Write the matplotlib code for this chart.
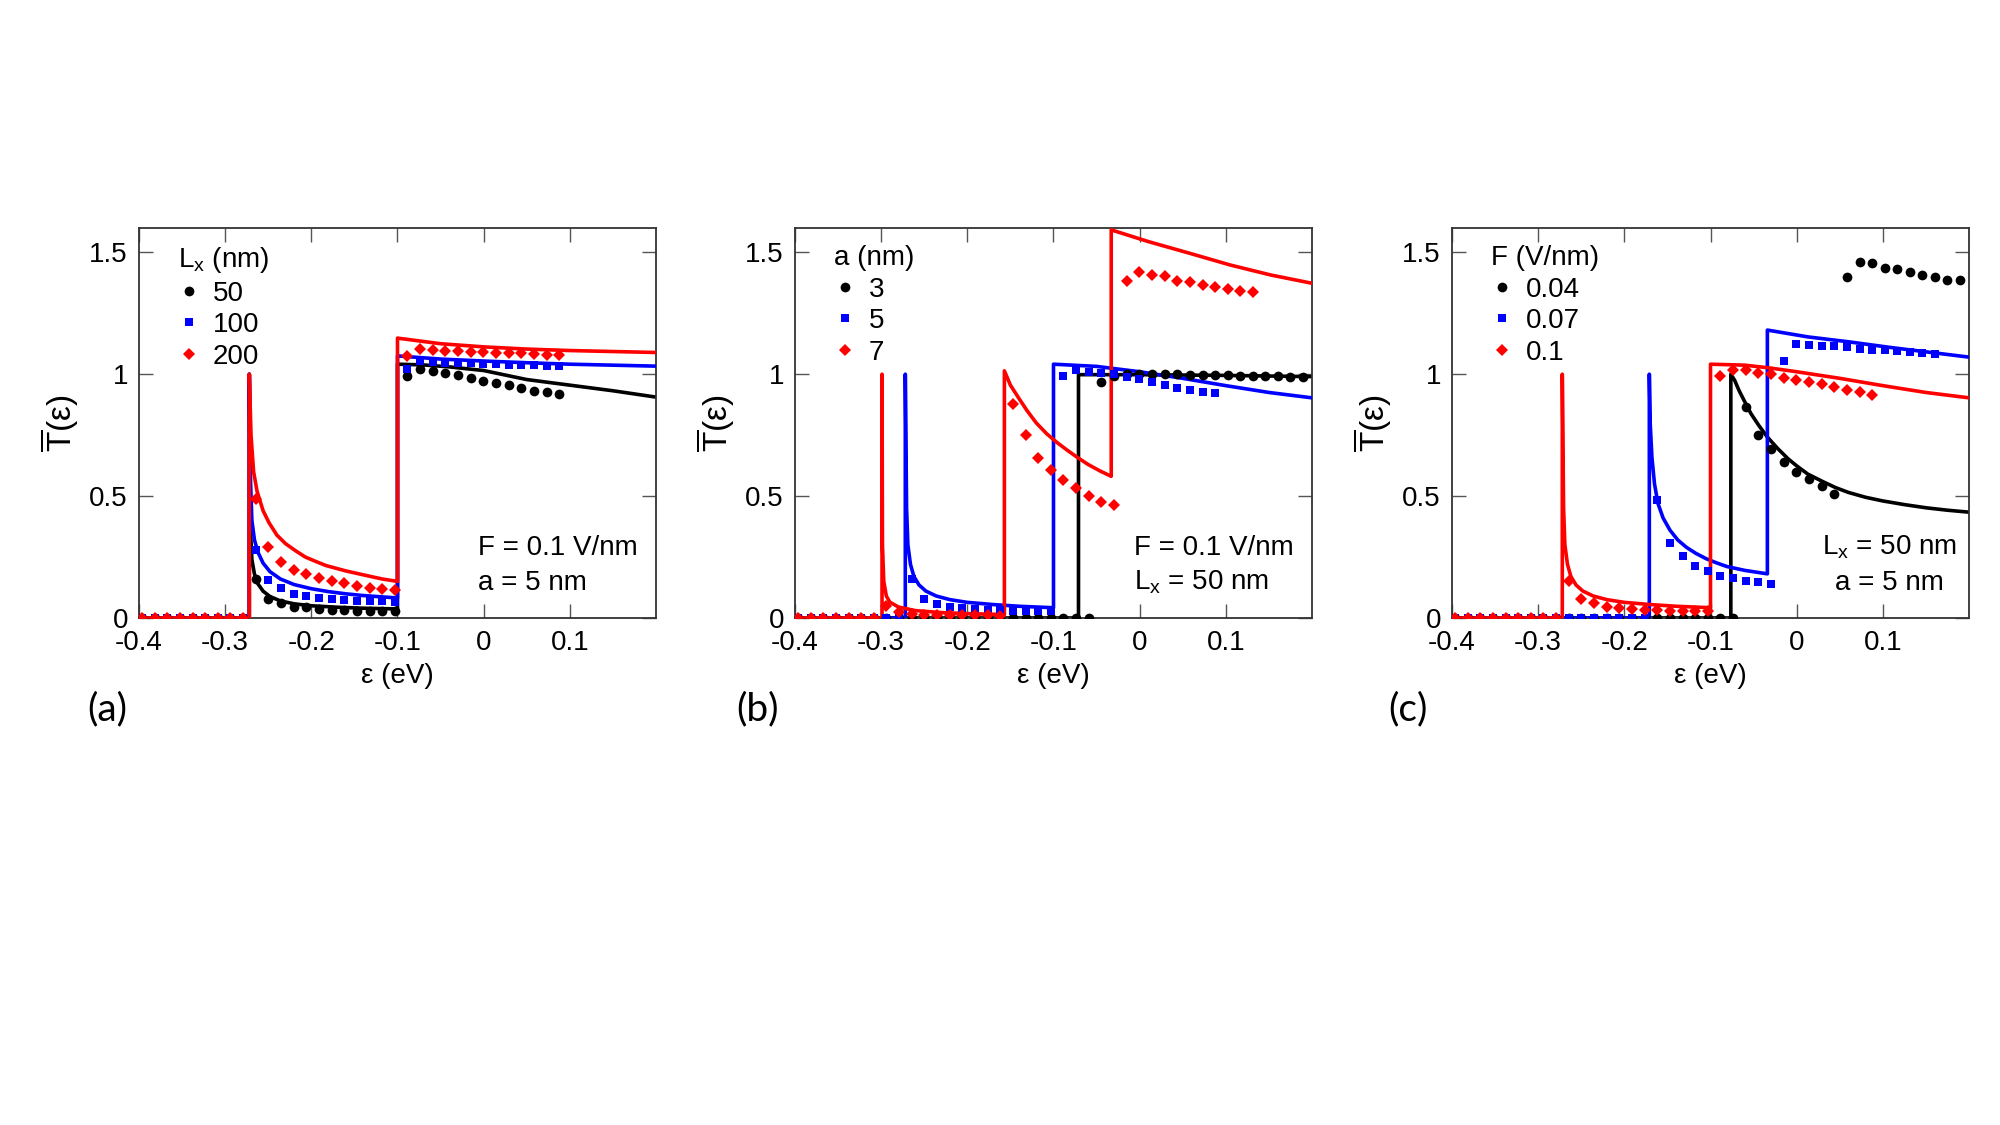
import numpy as np
import matplotlib
matplotlib.use('Agg')
import matplotlib.pyplot as plt

plt.rcParams['font.family'] = ['Liberation Sans', 'DejaVu Sans']
plt.rcParams['mathtext.fontset'] = 'custom'
plt.rcParams['mathtext.rm'] = 'Liberation Sans'
plt.rcParams['mathtext.it'] = 'Liberation Sans:italic'

##### energy grid of the numerical points (eV) #####
e_pts = [-0.396, -0.381, -0.367, -0.352, -0.337, -0.323, -0.308, -0.294, -0.279, -0.264,
         -0.250, -0.235, -0.220, -0.206, -0.191, -0.176, -0.162, -0.147, -0.132, -0.118,
         -0.103, -0.089, -0.074, -0.059, -0.045, -0.030, -0.015, -0.001, 0.014, 0.029,
         0.043, 0.058, 0.073, 0.087, 0.102, 0.117, 0.131, 0.146, 0.161, 0.175, 0.190]

##### panel (a): L_x = 50, 100, 200 nm #####
a_labels = ['50', '100', '200']
a_pts = [
    [0, 0, 0, 0, 0, 0, 0, 0, 0, 0.16, 0.078, 0.060, 0.047, 0.044, 0.037, 0.034, 0.033,
     0.030, 0.030, 0.029, 0.027, 0.993, 1.021, 1.014, 1.004, 0.996, 0.985, 0.973, 0.962,
     0.956, 0.944, 0.933, 0.925, 0.918],
    [0, 0, 0, 0, 0, 0, 0, 0, 0, 0.28, 0.156, 0.123, 0.099, 0.089, 0.082, 0.078, 0.074,
     0.071, 0.068, 0.068, 0.064, 1.023, 1.053, 1.051, 1.047, 1.044, 1.044, 1.041, 1.040,
     1.039, 1.037, 1.036, 1.034, 1.033],
    [0, 0, 0, 0, 0, 0, 0, 0, 0, 0.49, 0.29, 0.229, 0.197, 0.180, 0.164, 0.152, 0.143,
     0.131, 0.123, 0.120, 0.115, 1.075, 1.105, 1.099, 1.096, 1.095, 1.092, 1.089, 1.088,
     1.085, 1.085, 1.082, 1.080, 1.078],
]
a_line_x = [
    [-0.4, -0.272, -0.272, -0.2705, -0.269, -0.266, -0.262, -0.256, -0.248, -0.236, -0.22,
     -0.2, -0.17, -0.14, -0.1, -0.1, -0.07, -0.04, 0.0, 0.05, 0.1, 0.15, 0.2],
    [-0.4, -0.272, -0.272, -0.2705, -0.269, -0.266, -0.262, -0.256, -0.248, -0.236, -0.22,
     -0.2, -0.18, -0.16, -0.14, -0.12, -0.1, -0.1, -0.05, 0.0, 0.05, 0.1, 0.15, 0.2],
    [-0.4, -0.272, -0.272, -0.270, -0.267, -0.263, -0.256, -0.249, -0.240, -0.230, -0.218,
     -0.207, -0.195, -0.183, -0.16, -0.136, -0.118, -0.1, -0.1, -0.05, 0.0, 0.05, 0.1,
     0.15, 0.2],
]
a_line_y = [
    [0, 0, 1.0, 0.35, 0.24, 0.18, 0.14, 0.11, 0.088, 0.07, 0.058,
     0.05, 0.044, 0.04, 0.037, 1.041, 1.038, 1.03, 1.015, 0.978, 0.955, 0.932, 0.906],
    [0, 0, 1.0, 0.55, 0.40, 0.32, 0.27, 0.225, 0.19, 0.16, 0.137,
     0.12, 0.108, 0.099, 0.092, 0.087, 0.082, 1.075, 1.062, 1.054, 1.047, 1.041, 1.037, 1.033],
    [0, 0, 1.0, 0.75, 0.60, 0.52, 0.44, 0.39, 0.34, 0.305, 0.275,
     0.25, 0.232, 0.215, 0.193, 0.174, 0.16, 0.150, 1.148, 1.125, 1.112, 1.103, 1.097,
     1.093, 1.089],
]

##### panel (b): a = 3, 5, 7 nm #####
b_labels = ['3', '5', '7']
b_pts = [
    [0, 0, 0, 0, 0, 0, 0, 0, 0, 0, 0, 0, 0, 0, 0, 0, 0, 0, 0, 0, 0, 0, 0, 0,
     0.968, 0.993, 1.0, 1.0, 1.0, 1.0, 0.999, 0.998, 0.997, 0.996, 0.995, 0.994, 0.993,
     0.992, 0.991, 0.990, 0.990],
    [0, 0, 0, 0, 0, 0, 0, 0, 0, 0.16, 0.078, 0.058, 0.047, 0.041, 0.037, 0.034, 0.033,
     0.030, 0.030, 0.029, 0.027, 0.993, 1.016, 1.010, 1.005, 1.0, 0.989, 0.979, 0.967,
     0.955, 0.944, 0.934, 0.927, 0.921],
    [0, 0, 0, 0, 0, 0, 0, 0.051, 0.023, 0.016, 0.014, 0.013, 0.012, 0.012, 0.011, 0.011,
     0.010, 0.879, 0.749, 0.656, 0.608, 0.567, 0.533, 0.50, 0.475, 0.462, 1.384, 1.418,
     1.407, 1.403, 1.384, 1.379, 1.366, 1.356, 1.349, 1.341, 1.336],
]
b_line_x = [
    [-0.4, -0.071, -0.071, 0.0, 0.1, 0.2],
    [-0.4, -0.272, -0.272, -0.2705, -0.269, -0.266, -0.262, -0.256, -0.248, -0.236, -0.22,
     -0.2, -0.17, -0.14, -0.1, -0.1, -0.05, 0.0, 0.05, 0.1, 0.15, 0.2],
    [-0.4, -0.299, -0.299, -0.2985, -0.297, -0.294, -0.29, -0.28, -0.26, -0.23, -0.2, -0.157,
     -0.157, -0.15, -0.14, -0.131, -0.12, -0.108, -0.096, -0.084, -0.072, -0.06, -0.046,
     -0.033, -0.033, 0.01, 0.058, 0.105, 0.152, 0.2],
]
b_line_y = [
    [0, 0, 0.998, 0.998, 0.995, 0.99],
    [0, 0, 1.0, 0.45, 0.30, 0.22, 0.17, 0.135, 0.11, 0.09, 0.075,
     0.064, 0.055, 0.048, 0.042, 1.041, 1.032, 1.01, 0.983, 0.953, 0.925, 0.903],
    [0, 0, 1.0, 0.30, 0.15, 0.09, 0.065, 0.045, 0.03, 0.022, 0.018, 0.014,
     1.014, 0.955, 0.90, 0.852, 0.80, 0.756, 0.72, 0.688, 0.658, 0.63, 0.603,
     0.581, 1.592, 1.544, 1.496, 1.448, 1.407, 1.373],
]

##### panel (c): F = 0.04, 0.07, 0.1 V/nm #####
c_labels = ['0.04', '0.07', '0.1']
c_pts = [
    [0, 0, 0, 0, 0, 0, 0, 0, 0, 0, 0, 0, 0, 0, 0, 0, 0, 0, 0, 0, 0, 0, 0,
     0.866, 0.749, 0.695, 0.640, 0.599, 0.568, 0.540, 0.51, 1.40, 1.459, 1.455, 1.437,
     1.430, 1.418, 1.407, 1.40, 1.386, 1.386],
    [0, 0, 0, 0, 0, 0, 0, 0, 0, 0, 0, 0, 0, 0, 0, 0, 0.485, 0.308, 0.256, 0.212, 0.192,
     0.174, 0.163, 0.153, 0.149, 0.140, 1.055, 1.122, 1.119, 1.116, 1.115, 1.110, 1.105,
     1.101, 1.099, 1.095, 1.089, 1.085, 1.082],
    [0, 0, 0, 0, 0, 0, 0, 0, 0, 0.153, 0.078, 0.060, 0.047, 0.040, 0.037, 0.034, 0.033,
     0.030, 0.030, 0.029, 0.027, 0.993, 1.019, 1.016, 1.005, 0.999, 0.985, 0.975, 0.966,
     0.958, 0.948, 0.934, 0.925, 0.916],
]
c_line_x = [
    [-0.4, -0.0764, -0.0764, -0.072, -0.067, -0.060, -0.053, -0.044, -0.034, -0.022, -0.010,
     0.0, 0.013, 0.03, 0.045, 0.06, 0.08, 0.1, 0.125, 0.15, 0.175, 0.2],
    [-0.4, -0.171, -0.171, -0.170, -0.168, -0.165, -0.161, -0.155, -0.147, -0.138, -0.128,
     -0.117, -0.105, -0.093, -0.081, -0.06, -0.034, -0.034, 0.013, 0.06, 0.108, 0.2],
    [-0.4, -0.272, -0.272, -0.2705, -0.269, -0.266, -0.262, -0.256, -0.248, -0.236, -0.22,
     -0.2, -0.17, -0.14, -0.1, -0.1, -0.06, -0.03, 0.0, 0.05, 0.1, 0.15, 0.2],
]
c_line_y = [
    [0, 0, 1.0, 0.975, 0.934, 0.885, 0.838, 0.79, 0.742, 0.695, 0.653,
     0.624, 0.59, 0.56, 0.535, 0.515, 0.495, 0.48, 0.465, 0.452, 0.442, 0.434],
    [0, 0, 1.0, 0.80, 0.66, 0.55, 0.47, 0.41, 0.36, 0.32, 0.29,
     0.265, 0.243, 0.226, 0.211, 0.195, 0.181, 1.181, 1.153, 1.133, 1.110, 1.07],
    [0, 0, 1.0, 0.45, 0.30, 0.22, 0.17, 0.135, 0.11, 0.09, 0.075,
     0.064, 0.055, 0.048, 0.042, 1.041, 1.037, 1.025, 1.01, 0.983, 0.953, 0.925, 0.903],
]

colors = ['black', '#0000ff', '#ff0000']
markers = ['o', 's', 'D']
msizes = [7, 6, 6]

xtick_vals = [-0.4, -0.3, -0.2, -0.1, 0, 0.1]
xtick_txt = ['-0.4', '-0.3', '-0.2', '-0.1', '0', '0.1']
ytick_vals = [0, 0.5, 1, 1.5]
ytick_txt = ['0', '0.5', '1', '1.5']

FS = 20


def draw_panel(ax, line_x, line_y, pts, labels, title):
    for i in range(3):
        ax.plot(line_x[i], line_y[i], '-', color=colors[i], lw=2.6, zorder=2 + i)
    handles = []
    for i in range(3):
        h, = ax.plot(e_pts[:len(pts[i])], pts[i], linestyle='none', marker=markers[i],
                     ms=msizes[i], mew=0, color=colors[i], zorder=6 + i)
        handles.append(h)
    ax.set_xlim(-0.4, 0.2)
    ax.set_ylim(0, 1.6)
    ax.set_xticks(xtick_vals)
    ax.set_xticklabels(xtick_txt)
    ax.set_yticks(ytick_vals)
    ax.set_yticklabels(ytick_txt)
    ax.tick_params(direction='in', top=True, right=True, length=10, width=1,
                   color='#555555', labelsize=FS)
    ax.tick_params(axis='x', pad=9)
    ax.tick_params(axis='y', pad=8)
    for s in ax.spines.values():
        s.set_linewidth(1.3)
        s.set_color('#333333')
    ax.legend(handles, labels, title=title, loc='upper left',
              bbox_to_anchor=(0.0756, 0.956), borderaxespad=0, borderpad=0,
              frameon=False, fontsize=FS, title_fontsize=FS, handlelength=0.75,
              handletextpad=0.5, labelspacing=0.2, alignment='left')


fig = plt.figure(figsize=(20, 11.25), dpi=100)
lefts = [0.0695, 0.3975, 0.726]
axs = [fig.add_axes([l, 0.4507, 0.2585, 0.3467]) for l in lefts]

draw_panel(axs[0], a_line_x, a_line_y, a_pts, a_labels, 'L$_\\mathrm{x}$ (nm)')
draw_panel(axs[1], b_line_x, b_line_y, b_pts, b_labels, 'a (nm)')
draw_panel(axs[2], c_line_x, c_line_y, c_pts, c_labels, 'F (V/nm)')

axs[0].text(0.655, 0.1615, 'F = 0.1 V/nm', transform=axs[0].transAxes, fontsize=FS,
            va='baseline', ha='left')
axs[0].text(0.655, 0.0718, 'a = 5 nm', transform=axs[0].transAxes, fontsize=FS,
            va='baseline', ha='left')
axs[1].text(0.655, 0.1615, 'F = 0.1 V/nm', transform=axs[1].transAxes, fontsize=FS,
            va='baseline', ha='left')
axs[1].text(0.655, 0.0718, 'L$_\\mathrm{x}$ = 50 nm', transform=axs[1].transAxes,
            fontsize=FS, va='baseline', ha='left')
axs[2].text(0.846, 0.1615, 'L$_\\mathrm{x}$ = 50 nm', transform=axs[2].transAxes,
            fontsize=FS, va='baseline', ha='center')
axs[2].text(0.846, 0.0718, 'a = 5 nm', transform=axs[2].transAxes, fontsize=FS,
            va='baseline', ha='center')

for i, ax in enumerate(axs):
    l = lefts[i]
    fig.text(l + 0.2585 / 2, 1 - 676 / 1125, 'ε (eV)', fontsize=FS, ha='center', va='center')
    fig.text(l - 0.0395, 1 - 423 / 1125, r'$\overline{\mathrm{T}}$(ε)', fontsize=24,
             rotation=90, ha='center', va='center')

for lab, xc in zip(['(a)', '(b)', '(c)'], [107, 758, 1408]):
    fig.text(xc / 2000, 1 - 709 / 1125, lab, fontsize=28, ha='center', va='center',
             family=['Lato', 'DejaVu Sans'])

fig.savefig('out.png', dpi=100)
